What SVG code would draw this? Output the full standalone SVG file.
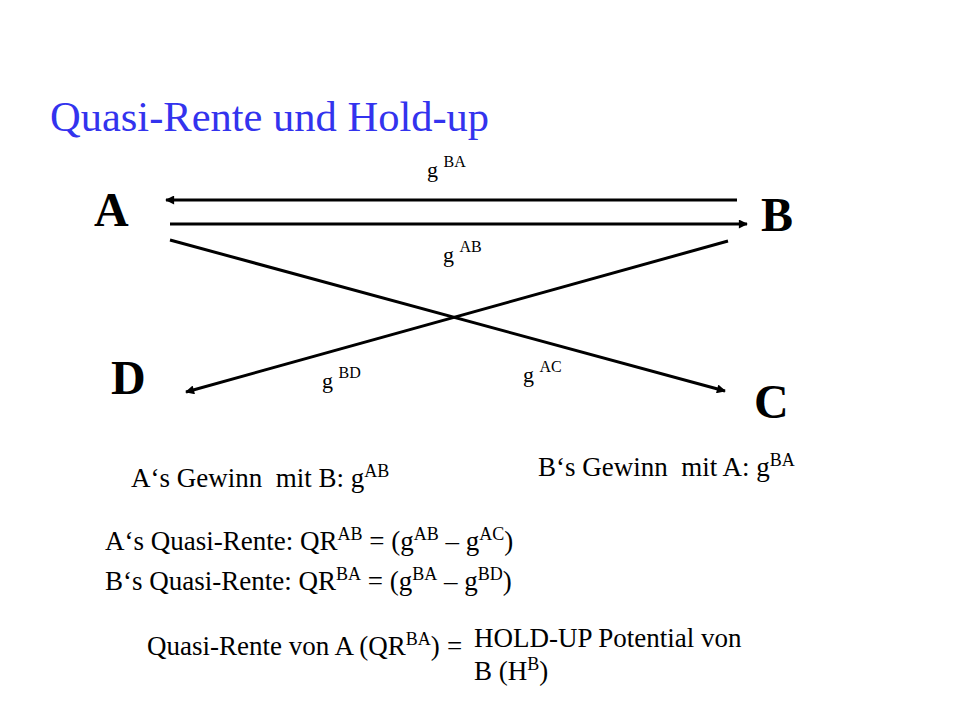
<svg xmlns="http://www.w3.org/2000/svg" width="960" height="720" viewBox="0 0 960 720">
<style>
.t{font-family:"Liberation Serif","Times New Roman",serif;fill:#000}
.title{font-family:"Liberation Serif","Times New Roman",serif;fill:#3333EE;font-size:42.5px}
.node{font-family:"Liberation Serif","Times New Roman",serif;font-weight:bold;font-size:48px;fill:#000}
.lbl{font-size:22px}
.body{font-size:27px}
.ln{stroke:#000;stroke-width:3;fill:none}
</style>
<defs>
<marker id="ah" viewBox="0 0 10 10" refX="9" refY="5" markerWidth="11" markerHeight="9" markerUnits="userSpaceOnUse" orient="auto">
<path d="M0,0 L10,5 L0,10 Z" fill="#000"/>
</marker>
</defs>
<rect width="960" height="720" fill="#fff"/>
<text class="title" x="50" y="131">Quasi-Rente und Hold-up</text>
<g id="nodeA"><text class="node" x="94" y="226">A</text></g>
<g id="nodeB"><text class="node" x="761" y="231">B</text></g>
<g id="nodeD"><text class="node" x="111" y="394">D</text></g>
<g id="nodeC"><text class="node" x="754" y="418">C</text></g>
<g id="connectors">
<line class="ln" x1="737" y1="200" x2="166" y2="200" marker-end="url(#ah)"/>
<line class="ln" x1="170" y1="224" x2="747" y2="224" marker-end="url(#ah)"/>
<line class="ln" x1="170" y1="240" x2="725" y2="391" marker-end="url(#ah)"/>
<line class="ln" x1="728" y1="241" x2="186" y2="392" marker-end="url(#ah)"/>
<text class="t lbl" x="427" y="177">g <tspan font-size="16" dy="-10">BA</tspan></text>
<text class="t lbl" x="443" y="262">g <tspan font-size="16" dy="-10">AB</tspan></text>
<text class="t lbl" x="322" y="388">g <tspan font-size="16" dy="-10">BD</tspan></text>
<text class="t lbl" x="523" y="382">g <tspan font-size="16" dy="-10">AC</tspan></text>
</g>
<g id="texts">
<text class="t body" x="131" y="487" xml:space="preserve">A‘s Gewinn  mit B: g<tspan font-size="18" dy="-10">AB</tspan></text>
<text class="t body" x="538" y="476" xml:space="preserve">B‘s Gewinn  mit A: g<tspan font-size="18" dy="-10">BA</tspan></text>
<text class="t body" x="105" y="550">A‘s Quasi-Rente: QR<tspan font-size="18" dy="-10">AB</tspan><tspan dy="10"> = (g</tspan><tspan font-size="18" dy="-10">AB</tspan><tspan dy="10"> – g</tspan><tspan font-size="18" dy="-10">AC</tspan><tspan dy="10">)</tspan></text>
<text class="t body" x="105" y="590">B‘s Quasi-Rente: QR<tspan font-size="18" dy="-10">BA</tspan><tspan dy="10"> = (g</tspan><tspan font-size="18" dy="-10">BA</tspan><tspan dy="10"> – g</tspan><tspan font-size="18" dy="-10">BD</tspan><tspan dy="10">)</tspan></text>
<text class="t body" x="147" y="655">Quasi-Rente von A (QR<tspan font-size="18" dy="-10">BA</tspan><tspan dy="10">)</tspan></text>
<text class="t body" x="447" y="655">=</text>
<text class="t body" x="474" y="647">HOLD-UP Potential von</text>
<text class="t body" x="474" y="680">B (H<tspan font-size="18" dy="-10">B</tspan><tspan dy="10">)</tspan></text>
</g>
</svg>
